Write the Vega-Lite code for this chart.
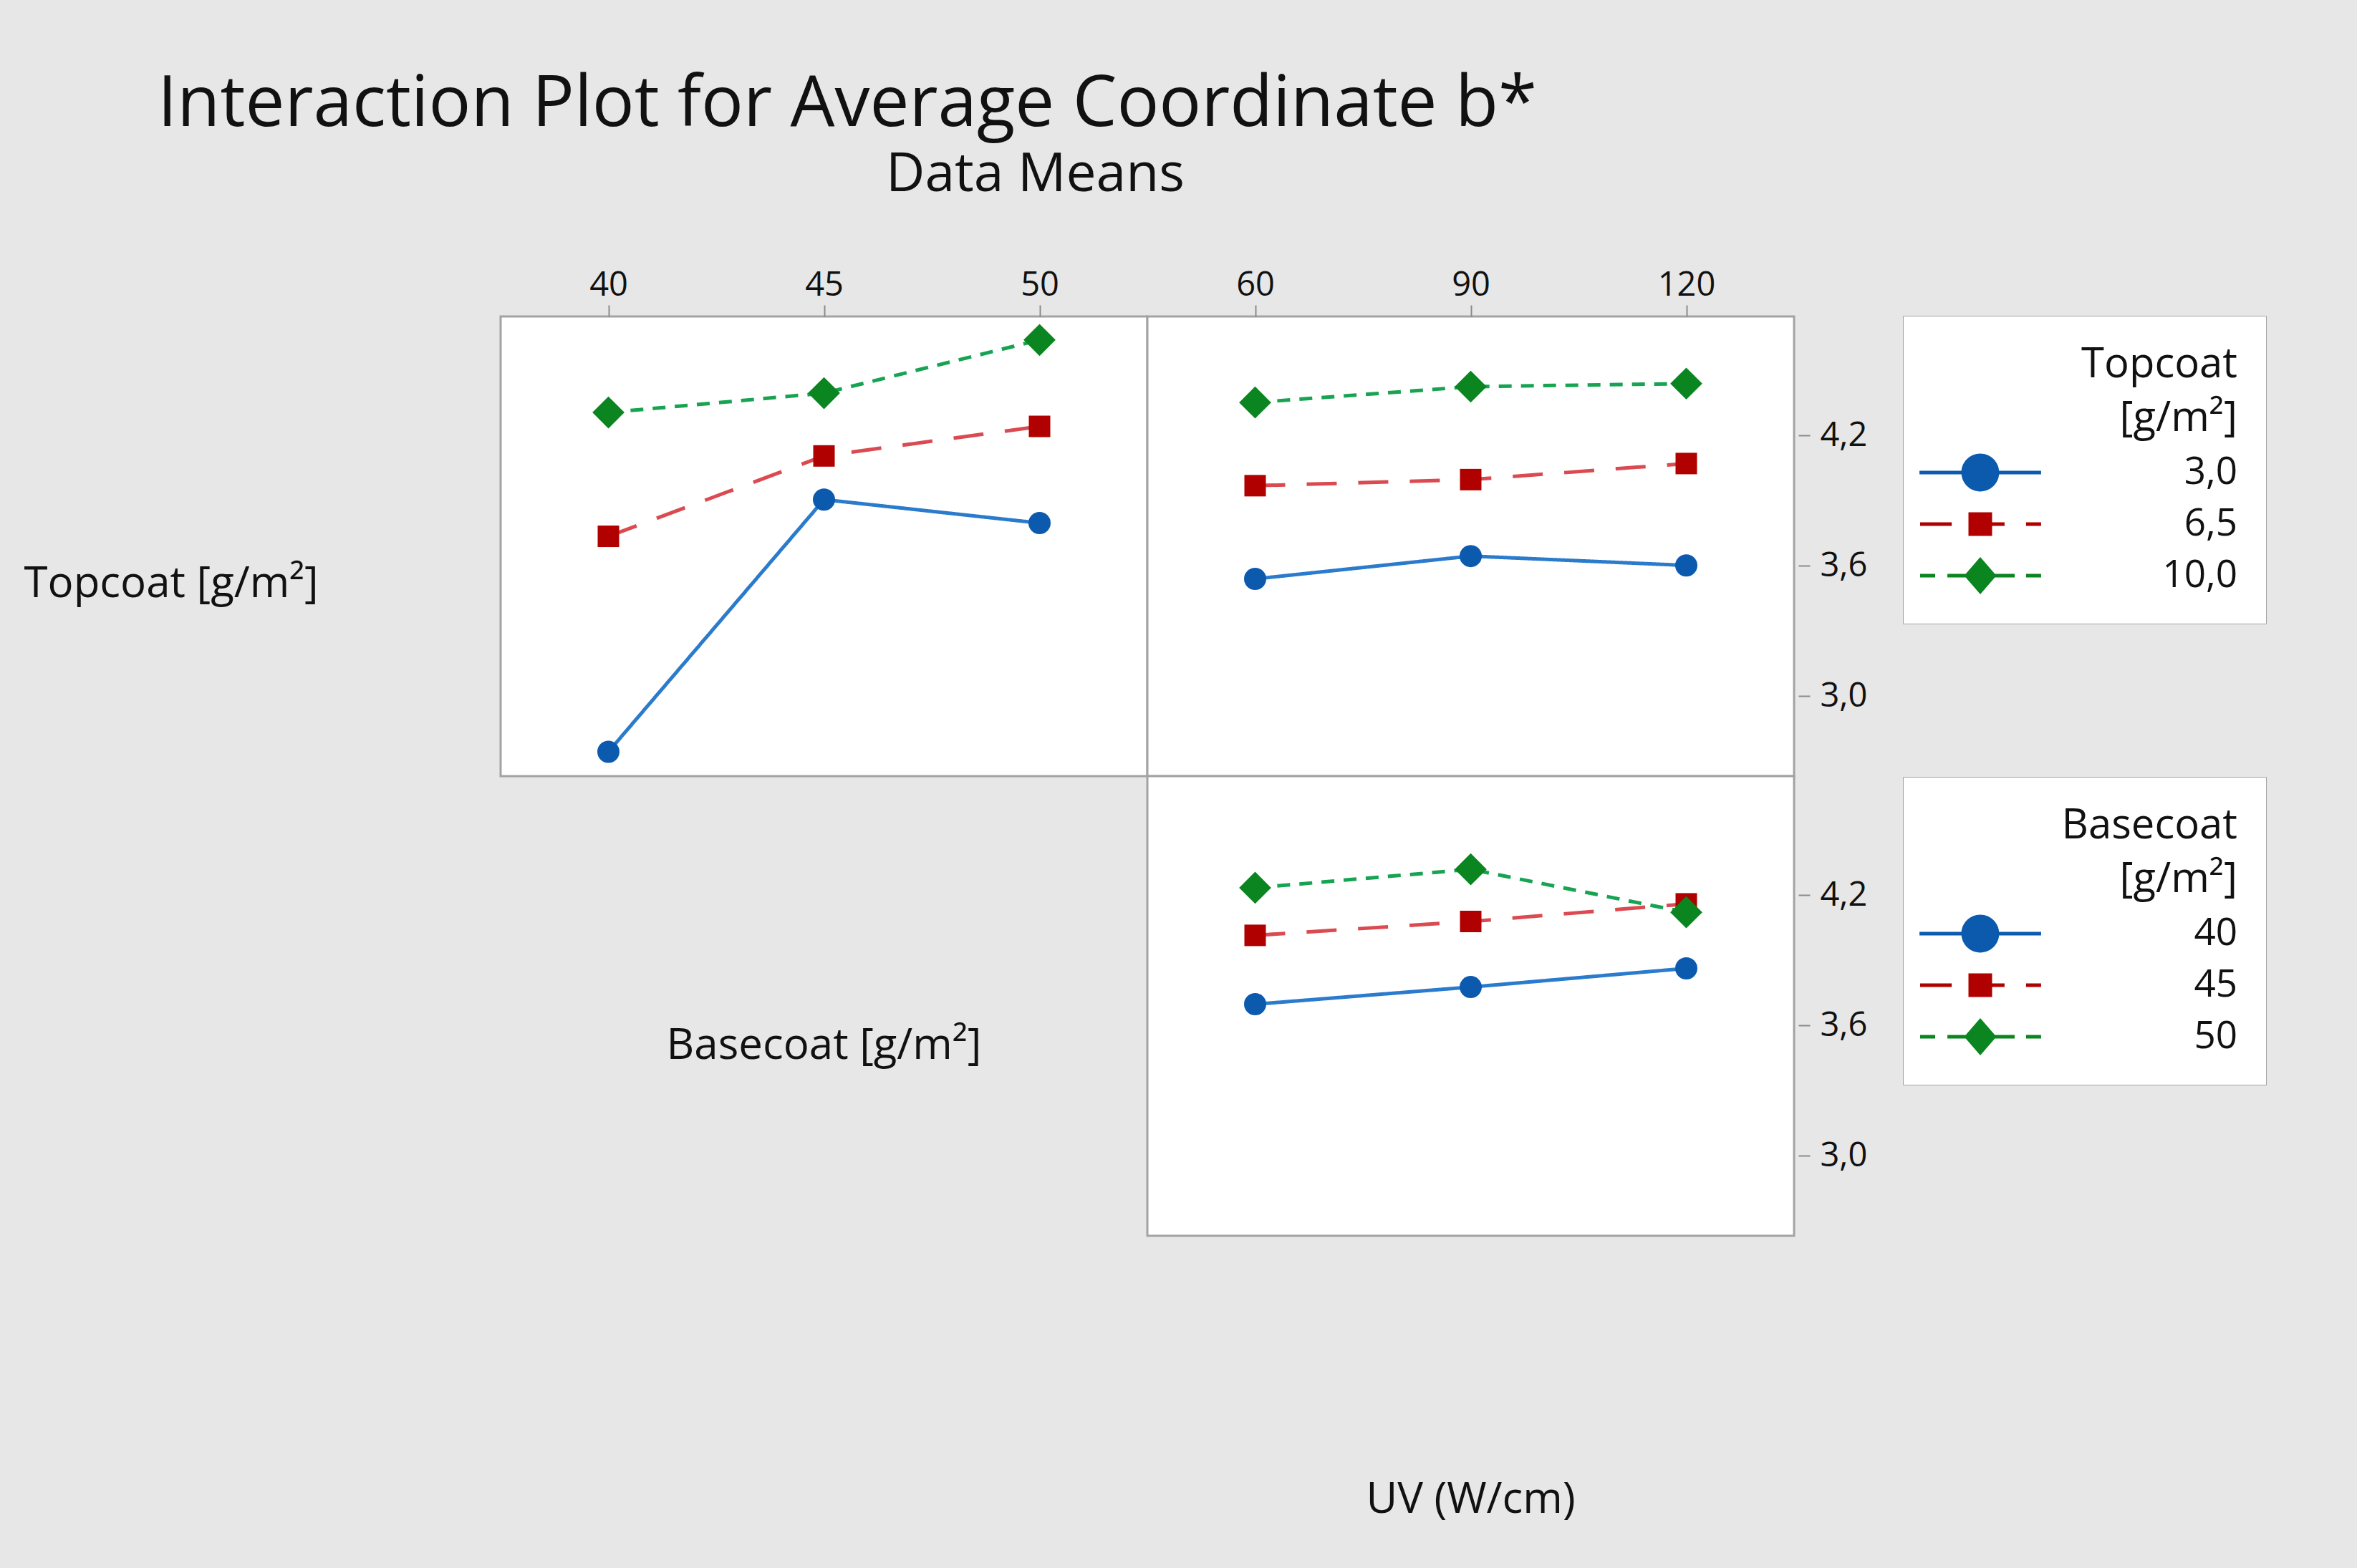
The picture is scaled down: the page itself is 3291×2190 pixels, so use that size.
{
  "$schema": "https://vega.github.io/schema/vega-lite/v6.json",
  "autosize": {"type": "none"},
  "padding": {"left": 699, "top": 442, "right": 2592, "bottom": 1748},
  "background": "#e7e7e7",
  "config": {
    "font": "Open Sans",
    "view": {"fill": "white", "stroke": "#a3a3a3", "strokeWidth": 3},
    "axis": {"grid": false, "labelFont": "Open Sans", "labelFontSize": 47, "labelColor": "#111111", "tickColor": "#8a8a8a", "tickWidth": 2, "titleFont": "Open Sans", "titleFontWeight": "normal", "titleColor": "#111111", "titleFontSize": 60},
    "title": {"font": "Open Sans", "fontWeight": "normal", "color": "#111111"},
    "legend": {"titleFont": "Open Sans", "labelFont": "Open Sans", "titleColor": "#111111", "labelColor": "#111111"}
  },
  "title": {"text": "Interaction Plot for Average Coordinate b*", "anchor": "start", "frame": "group", "fontSize": 98, "baseline": "alphabetic", "dx": -479, "offset": -68},
  "datasets": {
    "basecoat_topcoat": [
      {"basecoat": 40, "topcoat": "3,0", "mean": 2.744},
      {"basecoat": 45, "topcoat": "3,0", "mean": 3.905},
      {"basecoat": 50, "topcoat": "3,0", "mean": 3.797},
      {"basecoat": 40, "topcoat": "6,5", "mean": 3.736},
      {"basecoat": 45, "topcoat": "6,5", "mean": 4.106},
      {"basecoat": 50, "topcoat": "6,5", "mean": 4.242},
      {"basecoat": 40, "topcoat": "10,0", "mean": 4.306},
      {"basecoat": 45, "topcoat": "10,0", "mean": 4.395},
      {"basecoat": 50, "topcoat": "10,0", "mean": 4.640}
    ],
    "uv_topcoat": [
      {"uv": 60, "topcoat": "3,0", "mean": 3.540},
      {"uv": 90, "topcoat": "3,0", "mean": 3.645},
      {"uv": 120, "topcoat": "3,0", "mean": 3.602},
      {"uv": 60, "topcoat": "6,5", "mean": 3.969},
      {"uv": 90, "topcoat": "6,5", "mean": 3.997},
      {"uv": 120, "topcoat": "6,5", "mean": 4.071},
      {"uv": 60, "topcoat": "10,0", "mean": 4.352},
      {"uv": 90, "topcoat": "10,0", "mean": 4.425},
      {"uv": 120, "topcoat": "10,0", "mean": 4.439}
    ],
    "uv_basecoat": [
      {"uv": 60, "basecoat": "40", "mean": 3.698},
      {"uv": 90, "basecoat": "40", "mean": 3.777},
      {"uv": 120, "basecoat": "40", "mean": 3.863},
      {"uv": 60, "basecoat": "45", "mean": 4.015},
      {"uv": 90, "basecoat": "45", "mean": 4.079},
      {"uv": 120, "basecoat": "45", "mean": 4.160},
      {"uv": 60, "basecoat": "50", "mean": 4.234},
      {"uv": 90, "basecoat": "50", "mean": 4.319},
      {"uv": 120, "basecoat": "50", "mean": 4.121}
    ]
  },
  "columns": 2,
  "spacing": 0,
  "bounds": "flush",
  "resolve": {
    "scale": {"color": "independent", "fill": "independent", "shape": "independent", "size": "independent", "strokeDash": "independent"},
    "legend": {"color": "independent", "fill": "independent", "shape": "independent", "size": "independent", "strokeDash": "independent"}
  },
  "concat": [
    {
      "width": 903, "height": 642,
      "data": {"name": "basecoat_topcoat"},
      "title": {"text": "Data Means", "anchor": "start", "frame": "group", "fontSize": 75, "baseline": "alphabetic", "dx": 538, "offset": 32},
      "encoding": {
        "x": {"field": "basecoat", "type": "quantitative", "scale": {"domain": [37.5, 52.5], "nice": false, "zero": false},
              "axis": {"orient": "top", "values": [40, 45, 50], "title": null, "domain": false, "tickSize": 16, "labelPadding": 4}},
        "y": {"field": "mean", "type": "quantitative", "scale": {"domain": [2.632, 4.748], "nice": false, "zero": false},
              "axis": {"orient": "left", "title": "Topcoat [g/m²]", "labels": false, "ticks": false, "domain": false, "titleAngle": 0, "titleAlign": "left", "titleBaseline": "alphabetic", "titleX": -666, "titleY": 391}}
      },
      "layer": [
        {"mark": {"type": "line", "strokeWidth": 5, "strokeCap": "butt"},
         "encoding": {
           "color": {"field": "topcoat", "type": "nominal", "sort": ["3,0", "6,5", "10,0"], "scale": {"range": ["#2b7bcc", "#db4a50", "#17a352"]}, "legend": null},
           "strokeDash": {"field": "topcoat", "type": "nominal", "sort": ["3,0", "6,5", "10,0"], "scale": {"range": [[1, 0], [42, 30], [18, 13]]}, "legend": null}
         }},
        {"mark": {"type": "point", "filled": true, "opacity": 1},
         "encoding": {
           "fill": {"field": "topcoat", "type": "nominal", "scale": {"domain": ["3,0", "6,5", "10,0"], "range": ["#0b5aae", "#b00000", "#0a851f"]}, "legend": null},
           "shape": {"field": "topcoat", "type": "nominal", "sort": ["3,0", "6,5", "10,0"], "scale": {"range": ["circle", "square", "diamond"]}, "legend": null},
           "size": {"field": "topcoat", "type": "nominal", "sort": ["3,0", "6,5", "10,0"], "scale": {"type": "ordinal", "range": [960, 900, 2000]}, "legend": null}
         }}
      ]
    },
    {
      "width": 903, "height": 642,
      "data": {"name": "uv_topcoat"},
      "encoding": {
        "x": {"field": "uv", "type": "quantitative", "scale": {"domain": [45, 135], "nice": false, "zero": false},
              "axis": {"orient": "top", "values": [60, 90, 120], "title": null, "domain": false, "tickSize": 16, "labelPadding": 4}},
        "y": {"field": "mean", "type": "quantitative", "scale": {"domain": [2.632, 4.748], "nice": false, "zero": false},
              "axis": {"orient": "right", "values": [3.0, 3.6, 4.2], "labelExpr": "replace(format(datum.value, '.1f'), '.', ',')", "title": null, "domain": false, "offset": 6, "tickSize": 16, "labelPadding": 14}}
      },
      "layer": [
        {"mark": {"type": "line", "strokeWidth": 5, "strokeCap": "butt"},
         "encoding": {
           "color": {"field": "topcoat", "type": "nominal", "sort": ["3,0", "6,5", "10,0"], "scale": {"range": ["#2b7bcc", "#db4a50", "#17a352"]}, "legend": null},
           "strokeDash": {"field": "topcoat", "type": "nominal", "sort": ["3,0", "6,5", "10,0"], "scale": {"range": [[1, 0], [42, 30], [18, 13]]}, "legend": null}
         }},
        {"mark": {"type": "point", "filled": true, "opacity": 1},
         "encoding": {
           "fill": {"field": "topcoat", "type": "nominal", "sort": ["3,0", "6,5", "10,0"], "scale": {"range": ["#0b5aae", "#b00000", "#0a851f"]}, "legend": null},
           "shape": {"field": "topcoat", "type": "nominal", "sort": ["3,0", "6,5", "10,0"], "scale": {"range": ["circle", "square", "diamond"]}, "legend": null},
           "size": {"field": "topcoat", "type": "nominal", "sort": ["3,0", "6,5", "10,0"], "scale": {"type": "ordinal", "range": [960, 900, 2000]}, "legend": null}
         }},
        {"transform": [{"filter": "false"}],
         "mark": {"type": "point", "filled": true, "opacity": 1},
         "encoding": {
           "fill": {"field": "topcoat", "type": "nominal", "scale": {"domain": ["3,0", "6,5", "10,0"], "range": ["#0b5aae", "#b00000", "#0a851f"]}},
           "shape": {"field": "topcoat", "type": "nominal", "scale": {"domain": ["3,0", "6,5", "10,0"], "range": [
               "M-2.83,-0.08H2.83V0.08H-2.83Z M-0.88,0A0.88,0.88 0 1,1 0.88,0A0.88,0.88 0 1,1 -0.88,0Z",
               "M-2.8,-0.08H-1.33V0.08H-2.8Z M-0.55,-0.55H0.55V0.55H-0.55Z M0.55,-0.08H1.13V0.08H0.55Z M2.13,-0.08H2.83V0.08H2.13Z",
               "M-2.8,-0.08H-2.1V0.08H-2.8Z M-1.53,-0.08H-0.6V0.08H-1.53Z M0,-0.87L0.75,0L0,0.87L-0.75,0Z M0.6,-0.08H1.6V0.08H0.6Z M2.13,-0.08H2.83V0.08H2.13Z"]},
             "legend": {
               "orient": "none", "legendX": 1055, "legendY": -1,
               "title": ["Topcoat", "[g/m²]"], "titleAlign": "right", "titleAnchor": "end", "titleFontSize": 58, "titleFontWeight": "normal", "titleLineHeight": 75, "titlePadding": 16, "titleLimit": 1000,
               "labelFontSize": 53, "labelAlign": "right", "labelOffset": 329, "labelLimit": 1000, "labelBaseline": "middle",
               "symbolSize": 3600, "symbolOffset": 38, "symbolStrokeWidth": 0, "symbolOpacity": 1, "rowPadding": 15,
               "padding": 40, "fillColor": "white", "strokeColor": "#a3a3a3"
             }}
         }}
      ],
      "resolve": {"scale": {"fill": "independent", "shape": "independent"}, "legend": {"fill": "independent", "shape": "independent"}}
    },
    {
      "width": 903, "height": 642,
      "data": {"values": []},
      "mark": "point",
      "view": {"stroke": null, "fill": null}
    },
    {
      "width": 903, "height": 642,
      "data": {"name": "uv_basecoat"},
      "encoding": {
        "x": {"field": "uv", "type": "quantitative", "scale": {"domain": [45, 135], "nice": false, "zero": false},
              "axis": {"orient": "bottom", "title": "UV (W/cm)", "labels": false, "ticks": false, "domain": false, "titleAlign": "center", "titleBaseline": "alphabetic", "titleX": 451, "titleY": 386}}
      },
      "layer": [
        {"mark": {"type": "line", "strokeWidth": 5, "strokeCap": "butt"},
         "encoding": {
           "y": {"field": "mean", "type": "quantitative", "scale": {"domain": [2.632, 4.748], "nice": false, "zero": false},
                 "axis": {"orient": "right", "values": [3.0, 3.6, 4.2], "labelExpr": "replace(format(datum.value, '.1f'), '.', ',')", "title": null, "domain": false, "offset": 6, "tickSize": 16, "labelPadding": 14}},
           "color": {"field": "basecoat", "type": "nominal", "sort": ["40", "45", "50"], "scale": {"range": ["#2b7bcc", "#db4a50", "#17a352"]}, "legend": null},
           "strokeDash": {"field": "basecoat", "type": "nominal", "sort": ["40", "45", "50"], "scale": {"range": [[1, 0], [42, 30], [18, 13]]}, "legend": null}
         }},
        {"mark": {"type": "point", "filled": true, "opacity": 1},
         "encoding": {
           "y": {"field": "mean", "type": "quantitative", "scale": {"domain": [2.632, 4.748], "nice": false, "zero": false},
                 "axis": {"orient": "left", "title": "Basecoat [g/m²]", "labels": false, "ticks": false, "domain": false, "titleAngle": 0, "titleAlign": "center", "titleBaseline": "alphabetic", "titleX": -452, "titleY": 394}},
           "fill": {"field": "basecoat", "type": "nominal", "sort": ["40", "45", "50"], "scale": {"range": ["#0b5aae", "#b00000", "#0a851f"]}, "legend": null},
           "shape": {"field": "basecoat", "type": "nominal", "sort": ["40", "45", "50"], "scale": {"range": ["circle", "square", "diamond"]}, "legend": null},
           "size": {"field": "basecoat", "type": "nominal", "sort": ["40", "45", "50"], "scale": {"type": "ordinal", "range": [960, 900, 2000]}, "legend": null}
         }},
        {"transform": [{"filter": "false"}],
         "mark": {"type": "point", "filled": true, "opacity": 1},
         "encoding": {
           "fill": {"field": "basecoat", "type": "nominal", "scale": {"domain": ["40", "45", "50"], "range": ["#0b5aae", "#b00000", "#0a851f"]}},
           "shape": {"field": "basecoat", "type": "nominal", "scale": {"domain": ["40", "45", "50"], "range": [
               "M-2.83,-0.08H2.83V0.08H-2.83Z M-0.88,0A0.88,0.88 0 1,1 0.88,0A0.88,0.88 0 1,1 -0.88,0Z",
               "M-2.8,-0.08H-1.33V0.08H-2.8Z M-0.55,-0.55H0.55V0.55H-0.55Z M0.55,-0.08H1.13V0.08H0.55Z M2.13,-0.08H2.83V0.08H2.13Z",
               "M-2.8,-0.08H-2.1V0.08H-2.8Z M-1.53,-0.08H-0.6V0.08H-1.53Z M0,-0.87L0.75,0L0,0.87L-0.75,0Z M0.6,-0.08H1.6V0.08H0.6Z M2.13,-0.08H2.83V0.08H2.13Z"]},
             "legend": {
               "orient": "none", "legendX": 1055, "legendY": 1,
               "title": ["Basecoat", "[g/m²]"], "titleAlign": "right", "titleAnchor": "end", "titleFontSize": 58, "titleFontWeight": "normal", "titleLineHeight": 75, "titlePadding": 16, "titleLimit": 1000,
               "labelFontSize": 53, "labelAlign": "right", "labelOffset": 329, "labelLimit": 1000, "labelBaseline": "middle",
               "symbolSize": 3600, "symbolOffset": 38, "symbolStrokeWidth": 0, "symbolOpacity": 1, "rowPadding": 15,
               "padding": 40, "fillColor": "white", "strokeColor": "#a3a3a3"
             }}
         }}
      ],
      "resolve": {"axis": {"y": "independent"}, "scale": {"fill": "independent", "shape": "independent"}, "legend": {"fill": "independent", "shape": "independent"}}
    }
  ]
}
